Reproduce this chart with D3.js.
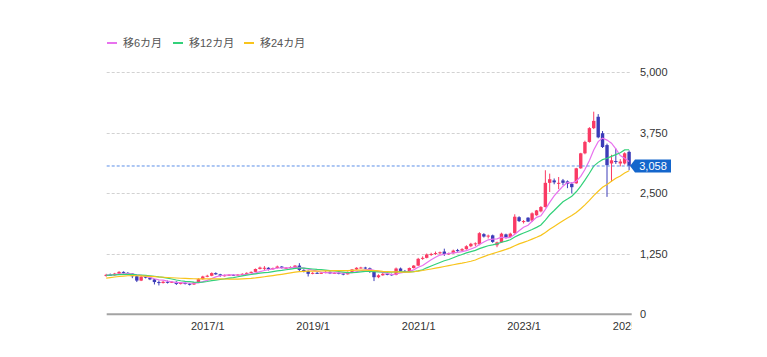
<!DOCTYPE html>
<html><head><meta charset="utf-8">
<script src="https://cdn.jsdelivr.net/npm/d3@7"></script>
<style>
html,body{margin:0;padding:0;background:#fff;}
svg{display:block;font-family:"Liberation Sans",Arial,"Noto Sans CJK JP",sans-serif;}
</style></head><body>
<svg id="chart" width="767" height="357"></svg>
<script>
// Monthly candles, 2015/2 .. 2025/1
const firstMonth = new Date(2015, 1, 1);
const lastMonth = new Date(2025, 0, 1);
const openV = [785,812,800,835,870,850,835,780,690,775,750,715,660,640,665,650,665,620,640,625,
610,650,720,775,790,845,820,790,800,810,800,815,830,850,870,930,950,955,925,950,
980,950,955,970,1000,910,890,830,850,845,850,870,840,850,835,820,870,920,955,960,
945,870,760,800,830,820,810,940,890,880,950,1000,1140,1160,1230,1245,1255,1290,1240,1255,
1320,1310,1340,1400,1450,1440,1650,1600,1625,1420,1480,1645,1590,1670,2000,1900,1990,1930,2040,2120,
2210,2710,2760,2690,2760,2740,2690,2700,3010,3320,3555,3840,4075,3735,3490,3110,3160,3110,3110,3350];
const highV = [830,835,850,885,880,865,845,790,790,790,760,725,690,690,690,680,675,660,655,640,
660,740,790,810,860,860,830,815,825,820,825,840,860,880,940,980,990,965,960,1000,
990,970,985,1010,1050,925,900,865,870,870,885,880,860,860,845,880,930,965,975,975,
960,880,820,850,860,835,960,960,910,960,1010,1160,1190,1250,1265,1290,1290,1350,1270,1330,
1345,1360,1420,1470,1480,1690,1670,1640,1640,1495,1680,1660,1680,2060,2020,1940,2000,2100,2150,2230,
2970,2900,2800,2830,2790,2760,2720,3020,3330,3580,3860,4180,4130,3780,3520,3290,3420,3200,3340,3380];
const lowV = [770,785,790,825,835,820,740,660,680,735,700,610,590,630,630,640,600,610,610,590,
600,640,710,760,780,810,770,775,790,785,790,800,825,840,865,920,910,900,915,940,
940,935,945,960,880,860,775,820,830,830,840,825,830,820,800,815,865,910,940,930,
850,680,740,790,800,790,800,870,860,870,940,990,1120,1150,1200,1220,1230,1200,1220,1245,
1285,1290,1330,1380,1400,1420,1580,1560,1470,1380,1470,1560,1570,1660,1900,1870,1900,1900,2030,2100,
2200,2520,2680,2580,2660,2600,2490,2690,3000,3300,3540,3820,3630,3430,2420,2730,3100,3050,3090,2970];
const closeV = [810,800,835,870,850,835,780,690,770,750,715,660,640,665,650,665,620,640,625,610,
650,720,775,790,845,820,790,800,810,800,815,830,850,870,930,960,955,925,950,980,
950,955,970,1000,910,890,830,850,845,850,870,840,850,835,820,870,920,955,960,945,
870,760,800,830,820,810,940,890,880,950,1000,1140,1160,1230,1240,1260,1275,1240,1255,1310,
1310,1340,1400,1450,1460,1670,1600,1620,1490,1480,1660,1590,1660,2010,1920,1920,1910,2080,2140,2210,
2710,2785,2720,2710,2710,2690,2620,3010,3320,3555,3840,3990,3650,3450,3075,3175,3140,3150,3320,3058];
const ma6 = [805,808,815,825,830,833,828,810,799,779,757,728,704,700,680,666,650,647,644,635,
635,644,670,695,732,767,790,803,809,811,806,808,818,829,849,876,899,915,932,950,
953,953,955,968,961,946,926,908,888,863,856,848,851,848,844,848,856,875,893,912,
920,902,882,861,838,815,827,848,862,882,912,967,1003,1060,1120,1172,1218,1234,1250,1263,
1275,1288,1309,1344,1378,1438,1487,1533,1548,1553,1587,1573,1583,1648,1720,1793,1835,1917,1997,2030,
2162,2306,2441,2546,2641,2721,2706,2743,2843,2984,3173,3389,3561,3634,3593,3530,3413,3273,3218,3153];
const ma12 = [800,805,810,815,818,820,818,810,805,798,790,780,766,755,740,723,703,687,674,668,
658,655,660,671,688,701,713,724,740,753,769,787,804,816,829,843,853,861,875,890,
901,914,927,941,946,948,940,930,921,915,908,897,888,878,866,855,856,861,872,880,
882,875,869,868,865,863,873,875,872,871,875,891,915,954,991,1027,1065,1100,1127,1162,
1198,1230,1263,1289,1314,1351,1381,1411,1429,1449,1483,1506,1535,1591,1634,1673,1711,1745,1790,1839,
1941,2050,2138,2231,2319,2375,2434,2525,2642,2765,2907,3055,3133,3189,3218,3257,3293,3331,3390,3394];
const ma24 = [740,752,764,775,784,790,793,790,786,781,776,771,765,759,754,749,744,739,735,731,
728,727,726,726,727,728,726,723,721,720,721,727,731,736,745,757,770,781,794,807,
820,834,848,864,875,882,884,887,887,888,891,893,895,896,896,898,901,905,906,905,
902,895,889,882,877,871,870,865,864,866,873,885,899,914,930,947,965,982,1000,1018,
1035,1051,1069,1090,1115,1153,1186,1219,1247,1275,1305,1334,1366,1410,1449,1481,1513,1548,1585,1625,
1685,1749,1810,1869,1927,1983,2034,2099,2176,2255,2348,2447,2537,2619,2678,2744,2806,2853,2912,2959];
const yTicks = [0, 1250, 2500, 3750, 5000];
const xTickYears = [2017, 2019, 2021, 2023, 2025];
const lastPrice = 3058;
const legendLabels = ["移6カ月", "移12カ月", "移24カ月"];
const maColors = ["#e872ee", "#33d17a", "#f8c41c"];
const upColor = "#fa3a64", downColor = "#3c3cb8";

const months = d3.timeMonth.range(firstMonth, d3.timeMonth.offset(lastMonth, 1));
const candles = months.map((m, i) => ({m, o: openV[i], h: highV[i], l: lowV[i], c: closeV[i]}));

const svg = d3.select("#chart");
const x = d3.scaleTime().domain([firstMonth, lastMonth]).range([106.2, 629.1]);
const y = d3.scaleLinear().domain([0, 5000]).range([314, 72]);
const plotL = 106.7, plotR = 631.7;

// grid
svg.append("g").selectAll("line").data(yTicks.filter(d => d > 0)).join("line")
  .attr("x1", plotL).attr("x2", plotR)
  .attr("y1", d => Math.round(y(d)) + 0.5).attr("y2", d => Math.round(y(d)) + 0.5)
  .attr("stroke", "#d2d2d2").attr("stroke-width", 1).attr("stroke-dasharray", "3,2");

// candles
const cg = svg.append("g");
cg.selectAll("line").data(candles).join("line")
  .attr("x1", d => x(d.m)).attr("x2", d => x(d.m))
  .attr("y1", d => y(d.h)).attr("y2", d => y(d.l))
  .attr("stroke", d => d.c >= d.o ? upColor : downColor).attr("stroke-width", 1);
cg.selectAll("rect").data(candles).join("rect")
  .attr("x", d => x(d.m) - 1.7).attr("width", 3.4)
  .attr("y", d => y(Math.max(d.o, d.c)))
  .attr("height", d => Math.max(1, Math.abs(y(d.o) - y(d.c))))
  .attr("fill", d => d.c >= d.o ? upColor : downColor);

// moving averages
[ma6, ma12, ma24].forEach((arr, k) => {
  svg.append("path").datum(arr)
    .attr("fill", "none").attr("stroke", maColors[k]).attr("stroke-width", 1.2)
    .attr("d", d3.line().x((d, i) => x(months[i])).y(d => y(d)));
});

// last price line
svg.append("line").attr("x1", plotL).attr("x2", 630)
  .attr("y1", y(lastPrice)).attr("y2", y(lastPrice))
  .attr("stroke", "#5b8fe8").attr("stroke-width", 1).attr("stroke-dasharray", "3,2");
const py = y(lastPrice);
svg.append("path")
  .attr("d", `M630,${py} L635,${py - 6.5} L671,${py - 6.5} L671,${py + 6.5} L635,${py + 6.5} Z`)
  .attr("fill", "#1466cc");
svg.append("text").attr("x", 653).attr("y", py).attr("dy", "0.35em")
  .attr("text-anchor", "middle").attr("fill", "#fff").attr("font-size", 11)
  .text(d3.format(",")(lastPrice));

// bottom axis line
svg.append("line").attr("x1", plotL).attr("x2", plotR).attr("y1", 314.3).attr("y2", 314.3)
  .attr("stroke", "#a3a3a3").attr("stroke-width", 2);

// x axis (labels clipped at the plot's right edge)
svg.append("clipPath").attr("id", "xclip").append("rect")
  .attr("x", 0).attr("y", -10).attr("width", 631.5).attr("height", 50);
const xAxis = svg.append("g").attr("transform", "translate(0,314)").attr("clip-path", "url(#xclip)")
  .call(d3.axisBottom(x).tickValues(xTickYears.map(yy => new Date(yy, 0, 1)))
    .tickFormat(d3.timeFormat("%Y/%-m")).tickSize(0).tickPadding(8));
xAxis.select(".domain").remove();
xAxis.selectAll("text").attr("font-size", 11).attr("fill", "#333").attr("font-family", null);

// y axis
const yAxis = svg.append("g").attr("transform", "translate(640,0)")
  .call(d3.axisRight(y).tickValues(yTicks).tickFormat(d3.format(",")).tickSize(0).tickPadding(0));
yAxis.select(".domain").remove();
yAxis.selectAll("text").attr("font-size", 11).attr("fill", "#333").attr("font-family", null);

// legend
const legX = [107, 173, 244];
const lg = svg.append("g");
legendLabels.forEach((t, k) => {
  lg.append("line").attr("x1", legX[k]).attr("x2", legX[k] + 10).attr("y1", 43).attr("y2", 43)
    .attr("stroke", maColors[k]).attr("stroke-width", 2);
  lg.append("text").attr("x", legX[k] + 16).attr("y", 43).attr("dy", "0.35em")
    .attr("font-size", 11).attr("fill", "#555").text(t);
});
</script>
</body></html>
